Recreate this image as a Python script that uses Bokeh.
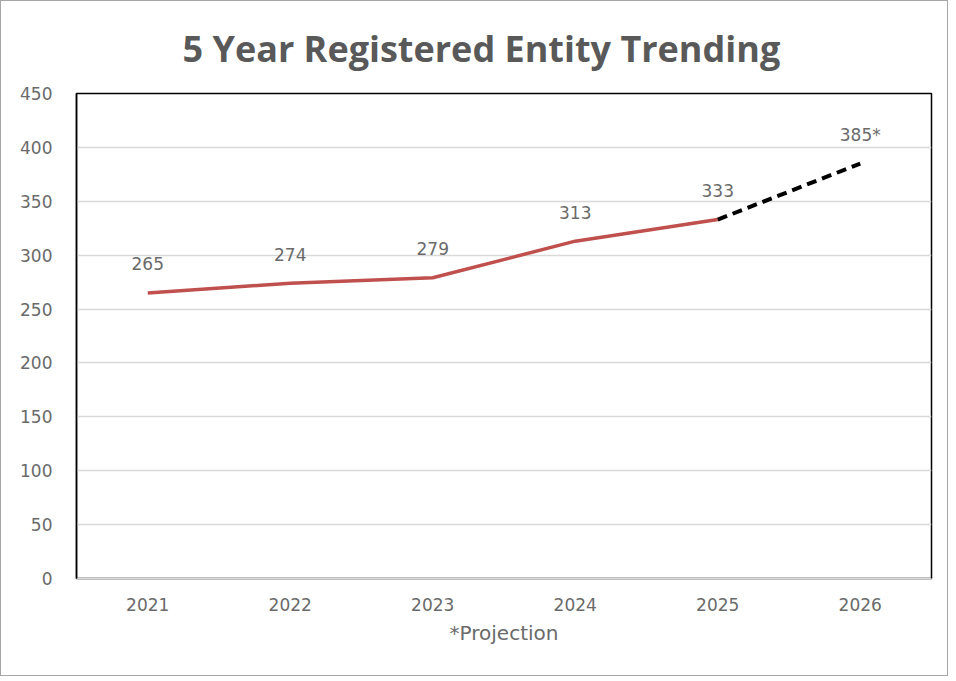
from bokeh.plotting import figure
from bokeh.embed import file_html
from bokeh.resources import INLINE
from bokeh.models import ColumnDataSource, Title
from bokeh.core.properties import value

years = ["2021", "2022", "2023", "2024", "2025", "2026"]
entities = [265, 274, 279, 313, 333, 385]
point_labels = ["265", "274", "279", "313", "333", "385*"]
actual_count = 5  # 2021-2025 actual, 2026 projection

TFONT = "Open Sans"
FONT = "DejaVu Sans"
GREY = "#595959"
LGREY = "#6a6a6a"

p = figure(x_range=years, y_range=(0, 450), width=948, height=676,
           output_backend="svg", toolbar_location=None,
           min_border_left=75, min_border_right=18, min_border_top=92, min_border_bottom=99)

p.title = Title(text="5 Year Registered Entity Trending", align="left", offset=106,
                text_font=TFONT, text_font_size="36px", text_font_style="bold",
                text_color=GREY, standoff=41)

actual = ColumnDataSource(dict(x=years[:actual_count], y=entities[:actual_count]))
proj = ColumnDataSource(dict(x=years[actual_count - 1:], y=entities[actual_count - 1:]))
labels = ColumnDataSource(dict(x=years, y=entities, t=point_labels))

p.line("x", "y", source=actual, line_color="#C0504D", line_width=3.5)
p.line("x", "y", source=proj, line_color="black", line_width=4, line_dash="10 6")
p.text("x", "y", text="t", source=labels, text_align="center", text_baseline="middle",
       y_offset=-29, text_font=value(FONT), text_font_size="17px", text_color=LGREY)

p.yaxis.ticker = list(range(0, 451, 50))
p.ygrid.grid_line_color = "#d9d9d9"
p.ygrid.grid_line_width = 1.5
p.xgrid.grid_line_color = None
p.outline_line_color = "black"
p.outline_line_width = 1.5

for ax in (p.xaxis, p.yaxis):
    ax.major_tick_line_color = None
    ax.minor_tick_line_color = None
    ax.major_label_text_font = FONT
    ax.major_label_text_font_size = "17px"
    ax.major_label_text_color = LGREY
p.yaxis.axis_line_color = "black"
p.yaxis.axis_line_width = 1.5
p.yaxis.major_label_standoff = 18
p.xaxis.axis_line_color = "#d9d9d9"
p.xaxis.major_label_standoff = 13
p.xaxis.axis_label = "*Projection"
p.xaxis.axis_label_text_font = FONT
p.xaxis.axis_label_text_font_size = "20px"
p.xaxis.axis_label_text_font_style = "normal"
p.xaxis.axis_label_text_color = LGREY
p.xaxis.axis_label_standoff = 7

p.styles = {"border": "1.5px solid #a6a6a6", "box-sizing": "border-box"}

open("out.html", "w").write(file_html(p, INLINE))
